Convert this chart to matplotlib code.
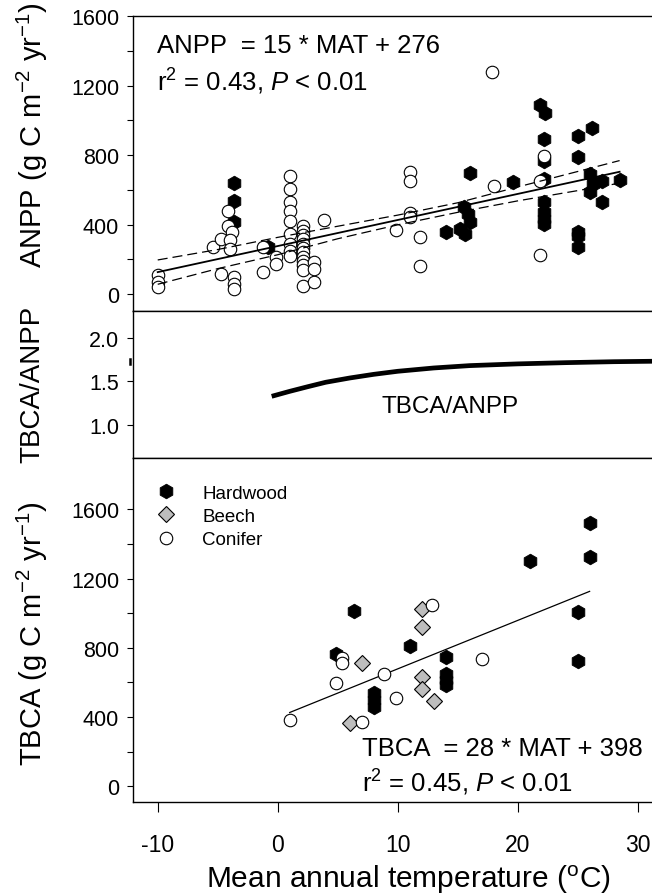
import matplotlib
matplotlib.use("Agg")
import matplotlib.pyplot as plt
import matplotlib.transforms as mtransforms

plt.rcParams["font.family"] = ["Liberation Sans", "DejaVu Sans"]
plt.rcParams["mathtext.fontset"] = "custom"
plt.rcParams["mathtext.rm"] = "Liberation Sans"
plt.rcParams["mathtext.it"] = "Liberation Sans:italic"
plt.rcParams["axes.unicode_minus"] = False

# ---- ANPP panel (MAT in degC, ANPP in g C m-2 yr-1) ----
anpp_con_mat = [-10, -10, -10, -5.4, -4.7, -4.7, -4.1, -4.1, -3.8, -4.0, -4.0,
                -3.6, -3.6, -3.6, -1.2, -1.2, -0.1, -0.1,
                1.0, 1.0, 1.0, 1.0, 1.0, 1.0, 1.0, 1.0, 1.0,
                2.1, 2.1, 2.1, 2.1, 2.1, 2.1, 2.1, 2.1, 2.1, 2.1, 2.1, 2.1,
                3.0, 3.0, 3.0, 3.9,
                11.0, 11.0, 11.0, 11.0, 9.9, 11.9, 11.9, 17.9, 18.0, 21.9, 22.2, 21.9]
anpp_con_val = [110, 70, 40, 270, 317, 115, 480, 393, 355, 313, 260,
                96, 58, 29, 270, 125, 211, 173,
                681, 604, 528, 480, 422, 345, 288, 249, 220,
                393, 365, 340, 315, 290, 265, 240, 215, 190, 165, 140, 44,
                67, 182, 144, 428,
                704, 652, 464, 445, 368, 326, 163, 1280, 623, 652, 796, 226]

anpp_hw_mat = [-3.6, -3.6, -3.6, -0.8, 14.0, 16.0, 19.6,
               15.5, 15.9, 16.0, 15.2, 15.6,
               21.9, 22.3, 22.2, 22.2, 22.2, 22.2, 22.2, 22.2, 22.2,
               25.0, 25.0, 25.0, 25.0, 25.0,
               26.2, 26.0, 26.3, 26.0, 27.0, 27.0, 28.5]
anpp_hw_val = [637, 537, 416, 270, 355, 696, 643,
               500, 460, 412, 374, 345,
               1088, 1042, 892, 767, 662, 528, 470, 432, 403,
               911, 787, 355, 333, 269,
               953, 691, 633, 585, 652, 528, 658]

# fit and confidence band
anpp_fit_mat = [-10, 28.5]
anpp_fit_val = [126, 703.5]
anpp_band_mat = [-10, -5, 0, 5, 10, 15, 20, 25, 28.5]
anpp_band_hi = [196, 256, 326, 390, 454, 525, 616, 705, 768]
anpp_band_lo = [56, 146, 226, 318, 398, 470, 536, 595, 638]

# ---- TBCA/ANPP ratio curve ----
ratio_mat = [-0.5, 1, 2.5, 4, 6, 8, 10, 13, 16, 20, 24, 28, 31.2]
ratio_val = [1.328, 1.385, 1.438, 1.489, 1.538, 1.58, 1.615, 1.653, 1.68,
             1.70, 1.714, 1.725, 1.73]

# ---- TBCA panel ----
tbca_hw_mat = [6.4, 4.9, 8.0, 8.0, 8.0, 21, 26, 26, 25, 25, 11, 14, 14, 14, 14]
tbca_hw_val = [1013, 762, 540, 500, 460, 1300, 1522, 1326, 1007, 721, 810,
               744, 650, 615, 585]
tbca_bch_mat = [7.0, 6.0, 12.0, 12.0, 12.0, 12.0, 13.0]
tbca_bch_val = [714, 365, 1022, 920, 631, 563, 492]
tbca_con_mat = [1.0, 5.4, 5.4, 8.9, 4.9, 9.9, 7.0, 12.9, 17.0]
tbca_con_val = [384, 741, 714, 650, 598, 511, 370, 1045, 737]
tbca_fit_mat = [1, 26]
tbca_fit_val = [426, 1126]

W, H = 652, 895
fig = plt.figure(figsize=(W / 100, H / 100), dpi=100)
left = 133 / W


def frac(top_px, bot_px):
    return [left, 1 - bot_px / H, 1 - left, (bot_px - top_px) / H]


ax1 = fig.add_axes(frac(17, 311.7))
ax2 = fig.add_axes(frac(311.7, 459.3))
ax3 = fig.add_axes(frac(459.3, 803.3))

xlim = (-12.06, 31.2)
hw = dict(marker="h", color="black", mec="black", ms=10.5, mew=0.6, ls="none")
cf = dict(marker="o", mfc="white", mec="black", ms=9, mew=0.8, ls="none")
bc = dict(marker="D", mfc="#bdbdbd", mec="black", ms=8, mew=0.8, ls="none")

for ax in (ax1, ax2, ax3):
    ax.set_xlim(*xlim)
    ax.spines["right"].set_visible(False)
    for s in ax.spines.values():
        s.set_linewidth(1.0)
    ax.tick_params(axis="y", direction="out", length=4, width=0.8, labelsize=15.5, pad=6)
    ax.tick_params(axis="y", which="minor", direction="out", length=4, width=0.8)
    ax.tick_params(axis="x", which="both", bottom=False, labelbottom=False)

# top panel
ax1.plot(anpp_hw_mat, anpp_hw_val, zorder=3, **hw)
ax1.plot(anpp_con_mat, anpp_con_val, zorder=4, **cf)
ax1.plot(anpp_fit_mat, anpp_fit_val, color="black", lw=1.3, zorder=5)
ax1.plot(anpp_band_mat, anpp_band_hi, color="black", lw=0.9, ls=(0, (8, 4)), zorder=5)
ax1.plot(anpp_band_mat, anpp_band_lo, color="black", lw=0.9, ls=(0, (8, 4)), zorder=5)
ax1.set_ylim(-96, 1600)
ax1.set_yticks([0, 400, 800, 1200, 1600])
ax1.set_yticks([200, 600, 1000, 1400], minor=True)
ax1.text(-10.1, 1394, "ANPP  = 15 * MAT + 276", fontsize=18.5, va="baseline")
ax1.text(-10.1, 1176, r"r$^2$ = 0.43, $\it{P}$ < 0.01", fontsize=18.5, va="baseline")

# middle panel
ax2.plot(ratio_mat, ratio_val, color="black", lw=3.4, solid_capstyle="butt", clip_on=False)
ax2.set_ylim(0.617, 2.31)
ax2.set_yticks([1.0, 1.5, 2.0])
ax2.set_yticklabels(["1.0", "1.5", "2.0"])
ax2.text(8.67, 1.15, "TBCA/ANPP", fontsize=17.5, va="baseline")
mark = mtransforms.blended_transform_factory(ax2.transAxes, ax2.transData)
ax2.plot([-0.006, -0.006], [1.70, 1.76], color="black", lw=1.8, transform=mark, clip_on=False)

# bottom panel
ax3.plot(tbca_hw_mat, tbca_hw_val, label="Hardwood", zorder=3, **hw)
ax3.plot(tbca_bch_mat, tbca_bch_val, label="Beech", zorder=4, **bc)
ax3.plot(tbca_con_mat, tbca_con_val, label="Conifer", zorder=4, **cf)
ax3.plot(tbca_fit_mat, tbca_fit_val, color="black", lw=0.9, zorder=2)
ax3.set_ylim(-93, 1895)
ax3.set_yticks([0, 400, 800, 1200, 1600])
ax3.set_yticks([200, 600, 1000, 1400], minor=True)
ax3.text(7.03, 181, "TBCA  = 28 * MAT + 398", fontsize=18.5, va="baseline")
ax3.text(7.03, -27, r"r$^2$ = 0.45, $\it{P}$ < 0.01", fontsize=18.5, va="baseline")
ax3.legend(loc="upper left", bbox_to_anchor=(0.045, 0.923), frameon=False,
           fontsize=13.5, handletextpad=1.45, labelspacing=0.32, borderaxespad=0,
           handlelength=1.0, borderpad=0)

ax3.tick_params(axis="x", which="major", bottom=True, labelbottom=True,
                direction="out", length=7, width=0.8, labelsize=16.5, pad=15)
ax3.set_xticks([-10, 0, 10, 20, 30])

fig.text(408.5 / W, 1 - 888 / H, r"Mean annual temperature ($^{\mathrm{o}}$C)",
         ha="center", va="baseline", fontsize=21.5)
fig.text(0.050, 1 - 135 / H, r"ANPP (g C m$^{-2}$ yr$^{-1}$)", rotation=90,
         ha="center", va="center", fontsize=21)
fig.text(0.050, 1 - 384 / H, "TBCA/ANPP", rotation=90, ha="center", va="center", fontsize=20)
fig.text(0.050, 1 - 634 / H, r"TBCA (g C m$^{-2}$ yr$^{-1}$)", rotation=90,
         ha="center", va="center", fontsize=21)

fig.savefig("out.png", dpi=100)
